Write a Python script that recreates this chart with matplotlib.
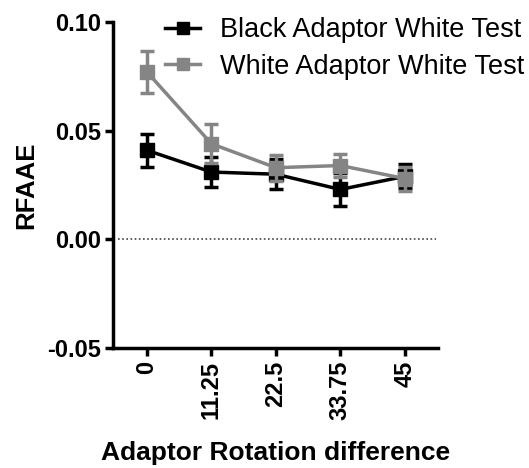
import matplotlib
matplotlib.use("Agg")
import matplotlib.pyplot as plt
from matplotlib.lines import Line2D

# === DATOS ===
rotacion = [0, 11.25, 22.5, 33.75, 45]
etiquetas_x = ["0", "11.25", "22.5", "33.75", "45"]

black_media = [0.041, 0.031, 0.030, 0.023, 0.029]
black_err = [0.0075, 0.007, 0.007, 0.0075, 0.0055]

white_media = [0.077, 0.044, 0.033, 0.034, 0.028]
white_err = [0.0098, 0.009, 0.006, 0.0055, 0.0055]

GRIS = "#858585"

plt.rcParams["font.family"] = ["Liberation Sans", "DejaVu Sans"]

fig = plt.figure(figsize=(5.29, 4.68), dpi=100)
ax = fig.add_axes([0.214, 0.256, 0.614, 0.697])

ax.errorbar(rotacion, black_media, yerr=black_err, color="black", marker="s",
            markersize=9.5, linewidth=2.5, elinewidth=2.5, capsize=5, capthick=2.5,
            zorder=3)
ax.errorbar(rotacion, white_media, yerr=white_err, color=GRIS, marker="s",
            markersize=9.5, linewidth=2.5, elinewidth=2.5, capsize=5, capthick=2.5,
            zorder=4)

ax.axhline(0, xmin=0.015, xmax=0.995, color="#444444", linestyle=(0, (1, 1.5)), linewidth=1.2)

ax.set_xlim(-5.9, 50.8)
ax.set_ylim(-0.05, 0.10)
ax.set_xticks(rotacion)
ax.set_xticklabels(etiquetas_x, rotation=90, fontsize=17, fontweight="bold")
ax.set_yticks([-0.05, 0.0, 0.05, 0.10])
ax.set_yticklabels(["-0.05", "0.00", "0.05", "0.10"], fontsize=17, fontweight="bold")

ax.spines["top"].set_visible(False)
ax.spines["right"].set_visible(False)
ax.spines["left"].set_linewidth(2.5)
ax.spines["bottom"].set_linewidth(2.5)
ax.tick_params(axis="both", direction="out", length=6, width=2.5, pad=3)

ax.set_xlabel("Adaptor Rotation difference", fontsize=19, fontweight="bold", labelpad=15)
ax.set_ylabel("RFAAE", fontsize=18.5, fontweight="bold", labelpad=6)

handles = [
    Line2D([], [], color="black", marker="s", markersize=8, linewidth=2.5),
    Line2D([], [], color=GRIS, marker="s", markersize=8, linewidth=2.5),
]
labels = ["Black Adaptor White Test", "White Adaptor White Test"]
fig.legend(handles, labels, loc="upper left", bbox_to_anchor=(165 / 529, 1 - 17 / 468),
           frameon=False, fontsize=19.5, handlelength=1.3, handletextpad=0.74,
           labelspacing=0.4, borderaxespad=0, borderpad=0)

fig.savefig("out.png", dpi=100)
